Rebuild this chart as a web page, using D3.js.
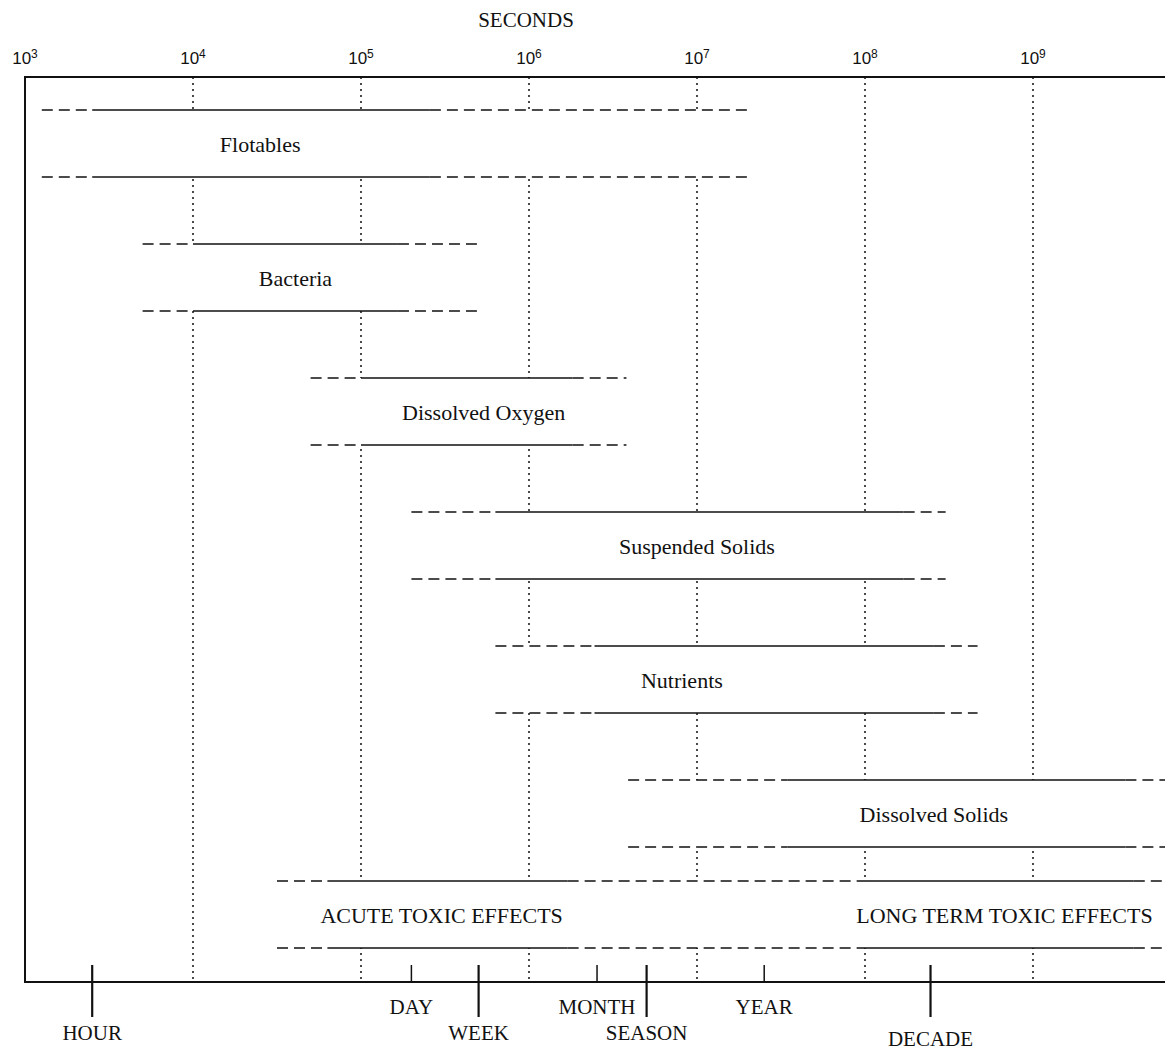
<!DOCTYPE html>
<html>
<head>
<meta charset="utf-8">
<script src="https://cdn.jsdelivr.net/npm/d3@7"></script>
<style>
  body { margin: 0; background: #fff; }
  svg { display: block; }
  .serif { font-family: "Liberation Serif", "Times New Roman", serif; fill: #111; }
  .sans { font-family: "Liberation Sans", Arial, sans-serif; fill: #111; }
</style>
</head>
<body>
<svg id="chart"></svg>
<script>
// exponents on the top axis (seconds = 10^n)
const decades = [3, 4, 5, 6, 7, 8, 9];

// time scales of each water quality problem, in log10(seconds)
const bandNames = ["Flotables", "Bacteria", "Dissolved Oxygen", "Suspended Solids",
    "Nutrients", "Dissolved Solids", "ACUTE TOXIC EFFECTS", "LONG TERM TOXIC EFFECTS"];
const bandRow   = [0, 1, 2, 3, 4, 5, 6, 6];
const dashFrom  = [3.10, 3.70, 4.70, 5.30, 5.80, 6.59, 4.50, 8.00];
const solidFrom = [3.40, 4.00, 5.00, 5.80, 6.39, 7.54, 4.80, 8.00];
const solidTo   = [5.41, 5.22, 6.26, 8.23, 8.41, 9.55, 6.23, 9.60];
const dashTo    = [7.30, 5.69, 6.58, 8.48, 8.67, 10.0, 8.00, 10.0];
const labelAt   = [4.40, 4.61, 5.73, 7.00, 6.91, 8.41, 5.48, 8.83];

// calendar markers under the axis, in log10(seconds)
const periods     = ["HOUR", "DAY", "WEEK", "MONTH", "SEASON", "YEAR", "DECADE"];
const periodAt    = [3.40, 5.30, 5.70, 6.405, 6.70, 7.40, 8.39];
const periodMajor = [true, false, true, false, true, false, true];

const width = 1165, height = 1051;
const plotLeft = 25, plotTop = 77, axisY = 982;
const decadeWidth = 168;

const svg = d3.select("#chart")
    .attr("width", width)
    .attr("height", height);

svg.append("rect")
    .attr("width", width)
    .attr("height", height)
    .attr("fill", "#fff");

let x = d3.scaleLinear()
    .domain([3, 10])
    .range([plotLeft, plotLeft + 7 * decadeWidth]);

let yRow = d3.scaleLinear()
    .domain([0, 5])
    .range([143.5, 813.5]);
const halfBand = 33.5;
const rowCenter = r => r < 6 ? yRow(r) : yRow(5) + 101;

// title
svg.append("text")
    .attr("class", "serif")
    .attr("x", x(6) - 3)
    .attr("y", 27)
    .attr("text-anchor", "middle")
    .style("font-size", "21px")
    .text("SECONDS");

// top tick labels 10^n
let tickLabels = svg.append("g")
    .selectAll("text")
    .data(decades)
    .join("text")
    .attr("class", "sans")
    .attr("x", d => x(d))
    .attr("y", 64)
    .attr("text-anchor", "middle")
    .style("font-size", "17px");
tickLabels.append("tspan").text("10");
tickLabels.append("tspan")
    .attr("dy", -6)
    .style("font-size", "12px")
    .text(d => d);

// dotted decade gridlines
svg.append("g")
    .selectAll("line")
    .data(decades.slice(1))
    .join("line")
    .attr("x1", d => x(d))
    .attr("x2", d => x(d))
    .attr("y1", plotTop)
    .attr("y2", axisY)
    .attr("stroke", "#111")
    .attr("stroke-width", 1.5)
    .attr("stroke-dasharray", "2,4");

// bands
let bands = bandNames.map((name, i) => ({
    name: name,
    row: bandRow[i],
    dashFrom: dashFrom[i],
    solidFrom: solidFrom[i],
    solidTo: solidTo[i],
    dashTo: dashTo[i],
    labelAt: labelAt[i]
}));

let bandGroup = svg.append("g");

// blank out gridlines inside every band
bandGroup.selectAll("rect")
    .data(bands)
    .join("rect")
    .attr("x", d => x(d.dashFrom))
    .attr("width", d => x(d.dashTo) - x(d.dashFrom))
    .attr("y", d => rowCenter(d.row) - halfBand)
    .attr("height", 2 * halfBand)
    .attr("fill", "#fff");

let segments = [];
for (let b of bands) {
    for (let side of [-1, 1]) {
        let y = rowCenter(b.row) + side * halfBand;
        segments.push({y: y, x0: b.dashFrom, x1: b.solidFrom, dashed: true});
        segments.push({y: y, x0: b.solidFrom, x1: b.solidTo, dashed: false});
        segments.push({y: y, x0: b.solidTo, x1: b.dashTo, dashed: true});
    }
}

bandGroup.selectAll("line")
    .data(segments.filter(s => s.x1 > s.x0))
    .join("line")
    .attr("x1", d => x(d.x0))
    .attr("x2", d => x(d.x1))
    .attr("y1", d => d.y)
    .attr("y2", d => d.y)
    .attr("stroke", "#111")
    .attr("stroke-width", d => d.dashed ? 1.4 : 1.6)
    .attr("stroke-dasharray", d => d.dashed ? "11,6" : null);

bandGroup.selectAll("text")
    .data(bands)
    .join("text")
    .attr("class", "serif")
    .attr("x", d => x(d.labelAt))
    .attr("y", d => rowCenter(d.row) + 8)
    .attr("text-anchor", "middle")
    .style("font-size", "22px")
    .text(d => d.name);

// frame: top, left and bottom axis (no right edge)
svg.append("path")
    .attr("d", "M" + width + "," + plotTop + "H" + plotLeft + "V" + axisY + "H" + width)
    .attr("fill", "none")
    .attr("stroke", "#111")
    .attr("stroke-width", 2);

// calendar markers
let marks = periods.map((name, i) => ({name: name, at: periodAt[i], major: periodMajor[i]}));

let markGroup = svg.append("g");
markGroup.selectAll("line")
    .data(marks)
    .join("line")
    .attr("x1", d => x(d.at))
    .attr("x2", d => x(d.at))
    .attr("y1", axisY - 17)
    .attr("y2", d => d.major ? axisY + 35 : axisY)
    .attr("stroke", "#111")
    .attr("stroke-width", d => d.major ? 2.2 : 1.5);

markGroup.selectAll("text")
    .data(marks)
    .join("text")
    .attr("class", "serif")
    .attr("x", d => x(d.at))
    .attr("y", d => axisY + (d.major ? 58 : 32) + (d.name === "DECADE" ? 6 : 0))
    .attr("text-anchor", "middle")
    .style("font-size", "21px")
    .text(d => d.name);
</script>
</body>
</html>
